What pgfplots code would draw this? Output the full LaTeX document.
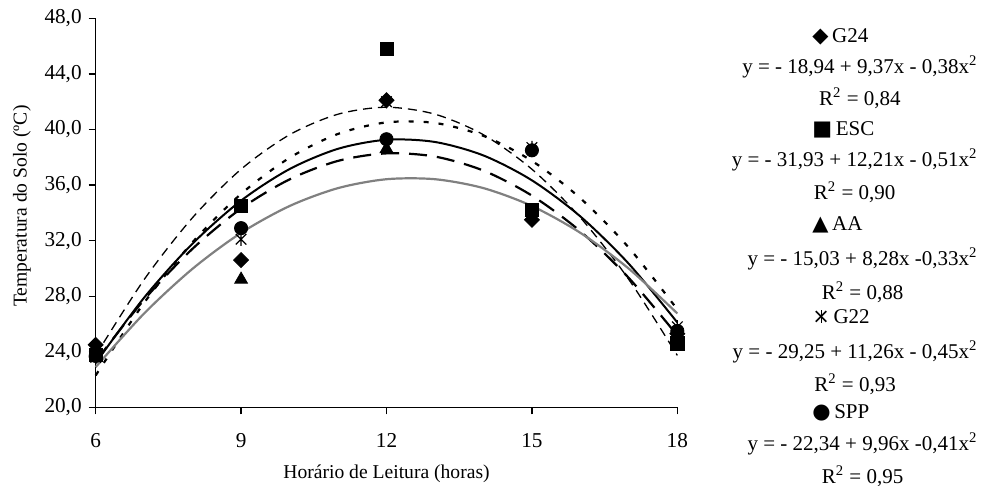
\documentclass[border=0pt]{standalone}
\usepackage{pgfplots}
\pgfplotsset{compat=1.18}
\usepackage{fontspec}
\setmainfont{Liberation Serif}
\newfontfamily\sym{DejaVu Sans}

% x com traco vertical (marcador do Excel)
\pgfdeclareplotmark{xstar}{%
  \pgfpathmoveto{\pgfqpoint{-.8\pgfplotmarksize}{-.8\pgfplotmarksize}}%
  \pgfpathlineto{\pgfqpoint{.8\pgfplotmarksize}{.8\pgfplotmarksize}}%
  \pgfpathmoveto{\pgfqpoint{-.8\pgfplotmarksize}{.8\pgfplotmarksize}}%
  \pgfpathlineto{\pgfqpoint{.8\pgfplotmarksize}{-.8\pgfplotmarksize}}%
  \pgfpathmoveto{\pgfqpoint{0pt}{-\pgfplotmarksize}}%
  \pgfpathlineto{\pgfqpoint{0pt}{\pgfplotmarksize}}%
  \pgfusepathqstroke}
% simbolo da legenda para G22: x com traco vertical
\newcommand{\xstarsym}{{\sym\ooalign{×\cr\hfil\vrule width 0.07em height 0.62em depth -0.02em\hfil\cr}}}

\begin{document}
\begin{tikzpicture}
\begin{axis}[
    width=290.8pt, height=194.5pt, scale only axis,
    xmin=6, xmax=18, ymin=20, ymax=48,
    xtick={6,9,12,15,18},
    ytick={20,24,...,48},
    axis lines=left,
    axis line style={-, black, line width=0.6pt},
    tick align=outside,
    major tick length=3.5pt,
    tick style={black, line width=0.6pt},
    /pgf/number format/assume math mode=true,
    yticklabel style={/pgf/number format/.cd, fixed, fixed zerofill, precision=1, use comma},
    xticklabel style={yshift=-6pt},
    ticklabel style={font=\fontsize{10.6}{12}\selectfont},
    xlabel={Horário de Leitura (horas)},
    ylabel={Temperatura do Solo (ºC)},
    label style={font=\fontsize{9.8}{11}\selectfont},
    xlabel style={at={(axis description cs:0.5,-0.1817)}, anchor=base},
    ylabel style={at={(axis description cs:-0.1267,0.5175)}, anchor=center},
    clip=false,
]
% curvas de tendencia
\addplot[color=black, line width=0.65pt, dash pattern=on 4.5pt off 3pt, smooth] coordinates {
  (6,23.74) (7,29.2) (8,33.66) (9,37.14) (10,39.62) (11,41.1) (12,41.6)
  (13,41.1) (14,39.62) (15,37.14) (16,33.66) (17,29.2) (18,23.74)};
\addplot[color=black, line width=1.1pt, dash pattern=on 2.5pt off 5pt, smooth] coordinates {
  (6,22.3) (7,27.53) (8,31.89) (9,35.36) (10,37.96) (11,39.68) (12,40.51)
  (13,40.47) (14,39.54) (15,37.74) (16,35.05) (17,31.49) (18,27.05)};
\addplot[color=black, line width=1pt, smooth] coordinates {
  (6,23.19) (7,27.9) (8,31.79) (9,34.88) (10,37.15) (11,38.61) (12,39.26)
  (13,39.1) (14,38.13) (15,36.34) (16,33.74) (17,30.33) (18,26.11)};
\addplot[color=black, line width=1.1pt, dash pattern=on 9pt off 5pt, smooth] coordinates {
  (6,23.31) (7,27.75) (8,31.42) (9,34.31) (10,36.41) (11,37.74) (12,38.28)
  (13,38.05) (14,37.04) (15,35.24) (16,32.67) (17,29.31) (18,25.18)};
\addplot[color=gray, line width=1.1pt, smooth] coordinates {
  (6,22.9) (7,26.76) (8,29.98) (9,32.56) (10,34.49) (11,35.78) (12,36.42)
  (13,36.42) (14,35.78) (15,34.49) (16,32.56) (17,29.98) (18,26.76)};

% pontos observados
\addplot[only marks, mark=square*, mark size=2.65pt, black, mark options={rotate=45}] coordinates {
  (6,24.5) (9,30.6) (12,42.1) (15,33.5) (18,25.3)};
\addplot[only marks, mark=square*, mark size=3.3pt, black] coordinates {
  (6,23.8) (9,34.5) (12,45.8) (15,34.2) (18,24.6)};
\addplot[only marks, mark=triangle*, mark size=3.7pt, black] coordinates {
  (6,23.9) (9,29.2) (12,38.6) (15,34.0) (18,25.0)};
\addplot[only marks, mark=xstar, mark size=3.3pt, black, mark options={line width=0.6pt}] coordinates {
  (6,23.6) (9,32.1) (12,42.0) (15,38.7) (18,25.8)};
\addplot[only marks, mark=*, mark size=3.3pt, black] coordinates {
  (6,23.7) (9,32.9) (12,39.3) (15,38.5) (18,25.5)};

% legenda com equacoes
\begin{scope}[every node/.style={font=\fontsize{10.5}{12}\selectfont, inner sep=0pt}]
\node[anchor=base west] at (axis cs:20.78,46.25) {{\sym ◆}\,G24};
\node[anchor=base east] (e1) at (axis cs:24.2,44.0) {y = - 18,94 + 9,37x - 0,38x\textsuperscript{2}};
\node[anchor=base] at ([yshift=-15.8pt]e1.base) {R\textsuperscript{2} = 0,84};
\node[anchor=base west] at (axis cs:20.78,39.55) {{\sym ■}\,ESC};
\node[anchor=base east] (e2) at (axis cs:24.2,37.32) {y = - 31,93 + 12,21x - 0,51x\textsuperscript{2}};
\node[anchor=base] at ([yshift=-16.3pt]e2.base) {R\textsuperscript{2} = 0,90};
\node[anchor=base west] at (axis cs:20.78,32.71) {{\sym ▲}\,AA};
\node[anchor=base east] (e3) at (axis cs:24.2,30.24) {y = - 15,03 + 8,28x -0,33x\textsuperscript{2}};
\node[anchor=base] at ([yshift=-17.2pt]e3.base) {R\textsuperscript{2} = 0,88};
\node[anchor=base west] at (axis cs:20.78,26.05) {\xstarsym\,G22};
\node[anchor=base east] (e4) at (axis cs:24.2,23.53) {y = - 29,25 + 11,26x - 0,45x\textsuperscript{2}};
\node[anchor=base] at ([yshift=-16.7pt]e4.base) {R\textsuperscript{2} = 0,93};
\node[anchor=base west] at (axis cs:20.78,19.21) {{\sym ●}\,SPP};
\node[anchor=base east] (e5) at (axis cs:24.2,16.93) {y = - 22,34 + 9,96x -0,41x\textsuperscript{2}};
\node[anchor=base] at ([yshift=-16.7pt]e5.base) {R\textsuperscript{2} = 0,95};
\end{scope}

\coordinate (bbsw) at (axis cs:4.026,14.406);
\coordinate (bbne) at (axis cs:24.286,49.32);
\end{axis}
\pgfresetboundingbox
\path[use as bounding box] (bbsw) rectangle (bbne);
\end{tikzpicture}
\end{document}
